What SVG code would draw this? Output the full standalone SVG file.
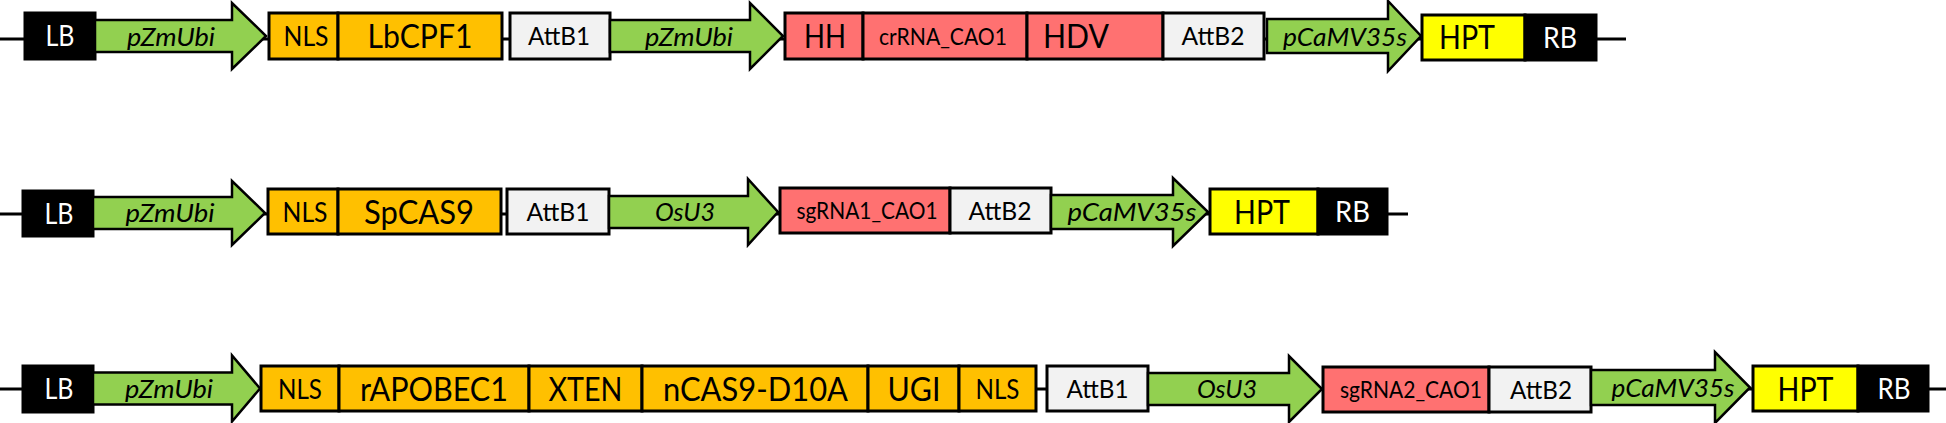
<svg xmlns="http://www.w3.org/2000/svg" width="1946" height="423" viewBox="0 0 1946 423">
<style>
rect, polygon { stroke: #000; stroke-width: 3; }
polygon { stroke-width: 2.5; stroke-linejoin: miter; }
.bk { fill: #000; }
.or { fill: #FFC000; }
.gr { fill: #92D050; }
.pk { fill: #FF7171; }
.lg { fill: #F2F2F2; }
.ye { fill: #FFFF00; }
text { font-family: Lato, "Liberation Sans", sans-serif; text-anchor: middle; fill: #000; }
.w { fill: #fff; font-size: 28px; }
.big { font-size: 33px; }
.hh { font-size: 33px; }
.nls { font-size: 27px; }
.pr { font-size: 26px; font-style: italic; }
.att { font-size: 25px; }
.rna { font-size: 22.5px; }
.ln { stroke: #000; stroke-width: 3; fill: none; }
</style>
<g id="connectors">
  <line class="ln" x1="0" y1="39" x2="1626" y2="39"/>
  <line class="ln" x1="0" y1="214" x2="1408" y2="214"/>
  <line class="ln" x1="0" y1="389" x2="1946" y2="389"/>
</g>
<!-- Row 1 -->
<g id="r1-LB"><rect class="bk" x="25" y="13" width="70" height="46"/><text class="w" x="60" y="46" textLength="29" lengthAdjust="spacingAndGlyphs">LB</text></g>
<g id="r1-pZmUbi"><polygon class="gr" points="95,20 232,20 232,3 266,36 232,69 232,52 95,52"/><text class="pr" x="171" y="45.5" textLength="88" lengthAdjust="spacingAndGlyphs">pZmUbi</text></g>
<g id="r1-NLS"><rect class="or" x="269" y="13" width="69" height="46"/><text class="nls" x="306" y="45.5" textLength="45" lengthAdjust="spacingAndGlyphs">NLS</text></g>
<g id="r1-LbCPF1"><rect class="or" x="338" y="13" width="164" height="46"/><text class="big" x="420" y="48" textLength="105" lengthAdjust="spacingAndGlyphs">LbCPF1</text></g>
<g id="r1-AttB1"><rect class="lg" x="510" y="13" width="100" height="46"/><text class="att" x="559" y="45" textLength="62" lengthAdjust="spacingAndGlyphs">AttB1</text></g>
<g id="r1-pZmUbi2"><polygon class="gr" points="610,20 750,20 750,3 783,36 750,69 750,52 610,52"/><text class="pr" x="689" y="45.5" textLength="88" lengthAdjust="spacingAndGlyphs">pZmUbi</text></g>
<g id="r1-HH"><rect class="pk" x="785" y="13" width="78" height="46"/><text class="hh" x="825" y="48" textLength="42" lengthAdjust="spacingAndGlyphs">HH</text></g>
<g id="r1-crRNA"><rect class="pk" x="863" y="13" width="164" height="46"/><text class="rna" x="943" y="44.5" textLength="128" lengthAdjust="spacingAndGlyphs">crRNA_CAO1</text></g>
<g id="r1-HDV"><rect class="pk" x="1027" y="13" width="136" height="46"/><text class="big" x="1076" y="48" textLength="66" lengthAdjust="spacingAndGlyphs">HDV</text></g>
<g id="r1-AttB2"><rect class="lg" x="1163" y="13" width="101" height="46"/><text class="att" x="1213" y="45" textLength="63" lengthAdjust="spacingAndGlyphs">AttB2</text></g>
<g id="r1-pCaMV35s"><polygon class="gr" points="1267,19 1388,19 1388,1 1421,36 1388,71 1388,53 1267,53"/><text class="pr" x="1345" y="45.5" textLength="124" lengthAdjust="spacingAndGlyphs">pCaMV35s</text></g>
<g id="r1-HPT"><rect class="ye" x="1422" y="15" width="103" height="45"/><text class="big" x="1467" y="49" textLength="56" lengthAdjust="spacingAndGlyphs">HPT</text></g>
<g id="r1-RB"><rect class="bk" x="1525" y="15" width="71" height="45"/><text class="w" x="1560" y="47.5" textLength="34" lengthAdjust="spacingAndGlyphs">RB</text></g>
<!-- Row 2 -->
<g id="r2-LB"><rect class="bk" x="23" y="191" width="70" height="45"/><text class="w" x="59" y="223.5" textLength="29" lengthAdjust="spacingAndGlyphs">LB</text></g>
<g id="r2-pZmUbi"><polygon class="gr" points="93,197 232,197 232,181 265,213 232,245 232,229 93,229"/><text class="pr" x="170" y="222" textLength="89" lengthAdjust="spacingAndGlyphs">pZmUbi</text></g>
<g id="r2-NLS"><rect class="or" x="268" y="189" width="70" height="45"/><text class="nls" x="305" y="221.5" textLength="45" lengthAdjust="spacingAndGlyphs">NLS</text></g>
<g id="r2-SpCAS9"><rect class="or" x="338" y="189" width="163" height="45"/><text class="big" x="419" y="223.5" textLength="110" lengthAdjust="spacingAndGlyphs">SpCAS9</text></g>
<g id="r2-AttB1"><rect class="lg" x="507" y="189" width="102" height="45"/><text class="att" x="558" y="220.5" textLength="63" lengthAdjust="spacingAndGlyphs">AttB1</text></g>
<g id="r2-OsU3"><polygon class="gr" points="609,196 748,196 748,179 778,212 748,245 748,228 609,228"/><text class="pr" x="685" y="221" textLength="60" lengthAdjust="spacingAndGlyphs">OsU3</text></g>
<g id="r2-sgRNA1"><rect class="pk" x="780" y="188" width="170" height="45"/><text class="rna" x="867" y="219" textLength="141" lengthAdjust="spacingAndGlyphs">sgRNA1_CAO1</text></g>
<g id="r2-AttB2"><rect class="lg" x="950" y="188" width="101" height="45"/><text class="att" x="1000" y="220" textLength="63" lengthAdjust="spacingAndGlyphs">AttB2</text></g>
<g id="r2-pCaMV35s"><polygon class="gr" points="1051,195 1173,195 1173,178 1208,212 1173,246 1173,229 1051,229"/><text class="pr" x="1132" y="221" textLength="129" lengthAdjust="spacingAndGlyphs">pCaMV35s</text></g>
<g id="r2-HPT"><rect class="ye" x="1210" y="189" width="108" height="45"/><text class="big" x="1262" y="223.5" textLength="56" lengthAdjust="spacingAndGlyphs">HPT</text></g>
<g id="r2-RB"><rect class="bk" x="1318" y="189" width="69" height="45"/><text class="w" x="1352.5" y="222" textLength="35" lengthAdjust="spacingAndGlyphs">RB</text></g>
<!-- Row 3 -->
<g id="r3-LB"><rect class="bk" x="23" y="366" width="70" height="46"/><text class="w" x="59" y="399" textLength="29" lengthAdjust="spacingAndGlyphs">LB</text></g>
<g id="r3-pZmUbi"><polygon class="gr" points="93,372.5 232,372.5 232,355.5 260,388.5 232,421.5 232,404.5 93,404.5"/><text class="pr" x="169" y="398" textLength="88" lengthAdjust="spacingAndGlyphs">pZmUbi</text></g>
<g id="r3-NLS1"><rect class="or" x="261" y="366" width="78" height="45"/><text class="nls" x="300" y="398.5" textLength="44" lengthAdjust="spacingAndGlyphs">NLS</text></g>
<g id="r3-rAPOBEC1"><rect class="or" x="339" y="366" width="190" height="45"/><text class="big" x="434" y="400.5" textLength="148" lengthAdjust="spacingAndGlyphs">rAPOBEC1</text></g>
<g id="r3-XTEN"><rect class="or" x="529" y="366" width="113" height="45"/><text class="big" x="585.5" y="400.5" textLength="74" lengthAdjust="spacingAndGlyphs">XTEN</text></g>
<g id="r3-nCAS9"><rect class="or" x="642" y="366" width="226" height="45"/><text class="big" x="755.5" y="400.5" textLength="185" lengthAdjust="spacingAndGlyphs">nCAS9-D10A</text></g>
<g id="r3-UGI"><rect class="or" x="868" y="366" width="91" height="45"/><text class="big" x="914" y="400.5" textLength="53" lengthAdjust="spacingAndGlyphs">UGI</text></g>
<g id="r3-NLS2"><rect class="or" x="959" y="366" width="77" height="45"/><text class="nls" x="997.5" y="398.5" textLength="44" lengthAdjust="spacingAndGlyphs">NLS</text></g>
<g id="r3-AttB1"><rect class="lg" x="1047" y="366" width="101" height="45"/><text class="att" x="1097.5" y="397.5" textLength="62" lengthAdjust="spacingAndGlyphs">AttB1</text></g>
<g id="r3-OsU3"><polygon class="gr" points="1148,373 1289,373 1289,356 1322,389 1289,422 1289,405 1148,405"/><text class="pr" x="1227" y="398" textLength="60" lengthAdjust="spacingAndGlyphs">OsU3</text></g>
<g id="r3-sgRNA2"><rect class="pk" x="1323" y="367" width="166" height="45"/><text class="rna" x="1411" y="397.5" textLength="142" lengthAdjust="spacingAndGlyphs">sgRNA2_CAO1</text></g>
<g id="r3-AttB2"><rect class="lg" x="1489" y="367" width="102" height="45"/><text class="att" x="1541" y="398.5" textLength="62" lengthAdjust="spacingAndGlyphs">AttB2</text></g>
<g id="r3-pCaMV35s"><polygon class="gr" points="1591,370 1715,370 1715,352 1750,387.5 1715,423 1715,405 1591,405"/><text class="pr" x="1673" y="397" textLength="123" lengthAdjust="spacingAndGlyphs">pCaMV35s</text></g>
<g id="r3-HPT"><rect class="ye" x="1753" y="366" width="105" height="45"/><text class="big" x="1805.5" y="400.5" textLength="56" lengthAdjust="spacingAndGlyphs">HPT</text></g>
<g id="r3-RB"><rect class="bk" x="1858" y="366" width="70" height="45"/><text class="w" x="1894" y="399" textLength="33" lengthAdjust="spacingAndGlyphs">RB</text></g>
</svg>
